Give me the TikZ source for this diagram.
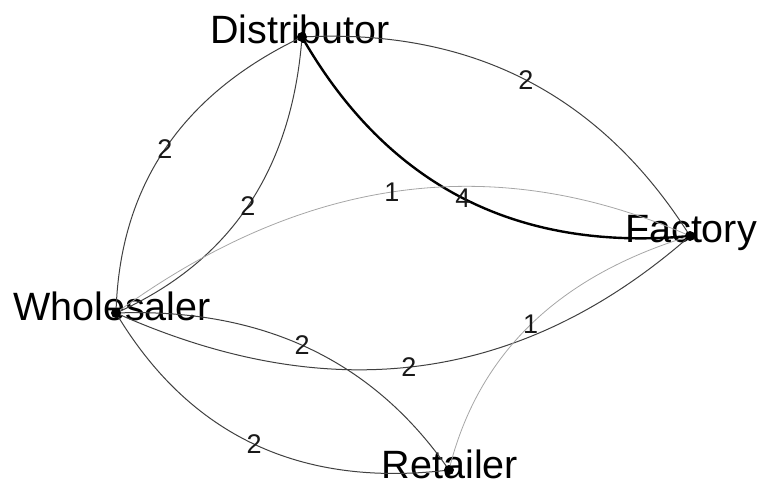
\documentclass[tikz,border=0pt]{standalone}
\usepackage{fontspec}
\setmainfont{Liberation Sans}
\usetikzlibrary{calc}
\definecolor{wone}{HTML}{A6A6A6}
\definecolor{wtwo}{HTML}{404040}
\tikzset{
  dot/.style={circle,fill=black,inner sep=0pt,minimum size=10pt},
  vlabel/.style={anchor=base,inner sep=0pt,font=\fontsize{39.5}{40}\selectfont},
  elabel/.style={inner sep=0pt,font=\fontsize{27}{27}\selectfont,text=black!90},
  wonee/.style={draw=wone,line width=0.8pt},
  wtwoe/.style={draw=wtwo,line width=1pt},
  wfoure/.style={draw=black,line width=2.4pt},
}
\newcommand\qedge[5]{%
  \draw[#1] (#2) .. controls ($(#2)!0.6667!(#4)$) and ($(#3)!0.6667!(#4)$) .. (#3) #5;}
\begin{document}
\begin{tikzpicture}[x=1pt,y=-1pt]
\useasboundingbox (0,0) rectangle (761,484);
% vertex positions
\coordinate (Dp) at (302,37);
\coordinate (Fp) at (690,236);
\coordinate (Wp) at (116,313);
\coordinate (Rp) at (449,470);
% vertex labels
\node[vlabel] (Dl) at (300,44) {Distributor};
\node[vlabel] (Fl) at (691,243) {Factory};
\node[vlabel] (Wl) at (112,320) {Wholesaler};
\node[vlabel] (Rl) at (450,478) {Retailer};
% control points
\coordinate (q1) at (556,23.5);
\coordinate (q2) at (430,260);
\coordinate (q3) at (121,123);
\coordinate (q4) at (287,237);
\coordinate (q5) at (398,107);
\coordinate (q6) at (438,457);
\coordinate (q7) at (335,305);
\coordinate (q8) at (226,497);
\coordinate (q9) at (492,296);
% edges
\qedge{wtwoe}{Dp}{Fp}{q1}{node[elabel,pos=0.5] (e1) {2}}
\qedge{wfoure}{Dp}{Fp}{q2}{node[elabel,pos=0.5] (e2) {4}}
\qedge{wtwoe}{Wp}{Dp}{q3}{node[elabel,pos=0.5] (e3) {2}}
\qedge{wtwoe}{Wp}{Dp}{q4}{node[elabel,pos=0.5] (e4) {2}}
\qedge{wonee}{Wp}{Fp}{q5}{node[elabel,pos=0.485] (e5) {1}}
\qedge{wtwoe}{Wp}{Fp}{q6}{node[elabel,pos=0.48] (e6) {2}}
\qedge{wtwoe}{Wp}{Rp}{q7}{node[elabel,pos=0.48] (e7) {2}}
\qedge{wtwoe}{Wp}{Rp}{q8}{node[elabel,pos=0.5] (e8) {2}}
\qedge{wonee}{Fp}{Rp}{q9}{node[elabel,pos=0.5] (e9) {1}}
% vertices
\node[dot] (D) at (Dp) {};
\node[dot] (F) at (Fp) {};
\node[dot] (W) at (Wp) {};
\node[dot] (R) at (Rp) {};
\end{tikzpicture}
\end{document}
